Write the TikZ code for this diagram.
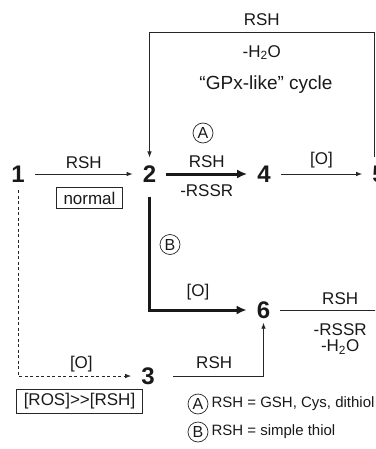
\documentclass[tikz,border=0pt]{standalone}
\usepackage{fontspec}
\setmainfont{Liberation Sans}
\usetikzlibrary{arrows.meta,positioning}

\begin{document}
\begin{tikzpicture}[
        x=10pt, y=10pt,
        every node/.style={font=\fontsize{17}{16.5}\selectfont, text=black!90},
        num/.style={font=\fontsize{24}{24}\selectfont\bfseries, inner xsep=10pt, inner ysep=8pt},
        lbl/.style={inner sep=2pt},
        keytext/.style={lbl, font=\fontsize{15}{15}\selectfont},
        boxlbl/.style={draw=black!85, line width=0.8pt, inner xsep=7pt, inner ysep=4pt},
        circ/.style={circle, draw=black!85, line width=0.7pt, minimum size=20pt, inner sep=0pt, font=\fontsize{16}{16}\selectfont},
        conn/.style={line width=0.8pt, draw=black!85},
        arrow/.style={conn, -{Latex[length=6pt,width=4.5pt]}},
        thickarrow/.style={-{Latex[length=10pt,width=9pt]}, line width=3pt, draw=black!90},
        dasharrow/.style={arrow, dash pattern=on 3pt off 2.5pt}
    ]
    \useasboundingbox (0,0) rectangle (37.5,-44.9);
    \clip (0,0) rectangle (37.5,-44.9);

    % Compounds
    \node[num] (n1) at (1.8,-17.4) {1};
    \node[num] (n2) at (14.95,-17.4) {2};
    \node[num] (n4) at (26.4,-17.4) {4};
    \node[num] (n5) at (37.9,-17.4) {5};
    \node[num] (n6) at (26.35,-31.0) {6};
    \node[num] (n3) at (14.8,-37.6) {3};

    % Corners of the cycle and the loose end past 6
    \coordinate (topL) at (14.95,-3.2);
    \coordinate (topR) at (37.4,-3.2);
    \coordinate (n7) at (40,-31.0);

    % Free labels
    \node[lbl, font=\fontsize{19}{19}\selectfont] (cycle) at (26.6,-8.45) {“GPx-like” cycle};
    \node[circ] (pathA) at (20.3,-13.3) {A};
    \node[circ] (pathB) at (17.0,-24.45) {B};
    \node[boxlbl] (normal) at (8.95,-19.8) {normal};
    \node[boxlbl] (excess) at (7.95,-40.1) {[ROS]>{}>[RSH]};

    % === EDGES ===

    % 1 -> 2 (normal route)
    \draw[arrow] (n1) -- node[lbl, above=3pt] {RSH} (n2);

    % 2 -> 4 -> 5 (pathway A)
    \draw[thickarrow] (n2) -- node[lbl, above=3pt] {RSH} node[lbl, below=7pt] {-RSSR} (n4);
    \draw[arrow] (n4) -- node[lbl, above=4pt] {[O]} (n5);

    % 5 -> 2 closes the GPx-like cycle
    \draw[arrow] (n5.north -| topR) |- node[lbl, pos=0.75, above=4pt] {RSH}
        node[lbl, pos=0.75, below=11pt] {-H\textsubscript{2}O} (topL) -- (n2);

    % 2 -> 6 (pathway B)
    \draw[thickarrow, shorten <=6pt] (n2) |- node[lbl, pos=0.75, above=6pt] {[O]} (n6);

    % 6 -> off the page
    \draw[conn] (n6) -- node[lbl, above=3pt] {RSH}
        node[lbl, below=11pt, align=center] {-RSSR\\-H\textsubscript{2}O} (n7);

    % 1 -> 3 -> 6 (oxidative stress)
    \draw[dasharrow] (n1) |- node[lbl, pos=0.78, above=2pt] {[O]} (n3);
    \draw[arrow, shorten <=8pt, shorten >=-4pt] (n3) -| node[lbl, pos=0.25, above=5pt] {RSH} (n6);

    % Key
    \node[circ] (keyA) at (19.8,-40.4) {A};
    \node[keytext, right=1pt of keyA] (keyAtext) {RSH = GSH, Cys, dithiol};
    \node[circ] (keyB) at (19.8,-43.2) {B};
    \node[keytext, right=1pt of keyB] (keyBtext) {RSH = simple thiol};

\end{tikzpicture}
\end{document}
